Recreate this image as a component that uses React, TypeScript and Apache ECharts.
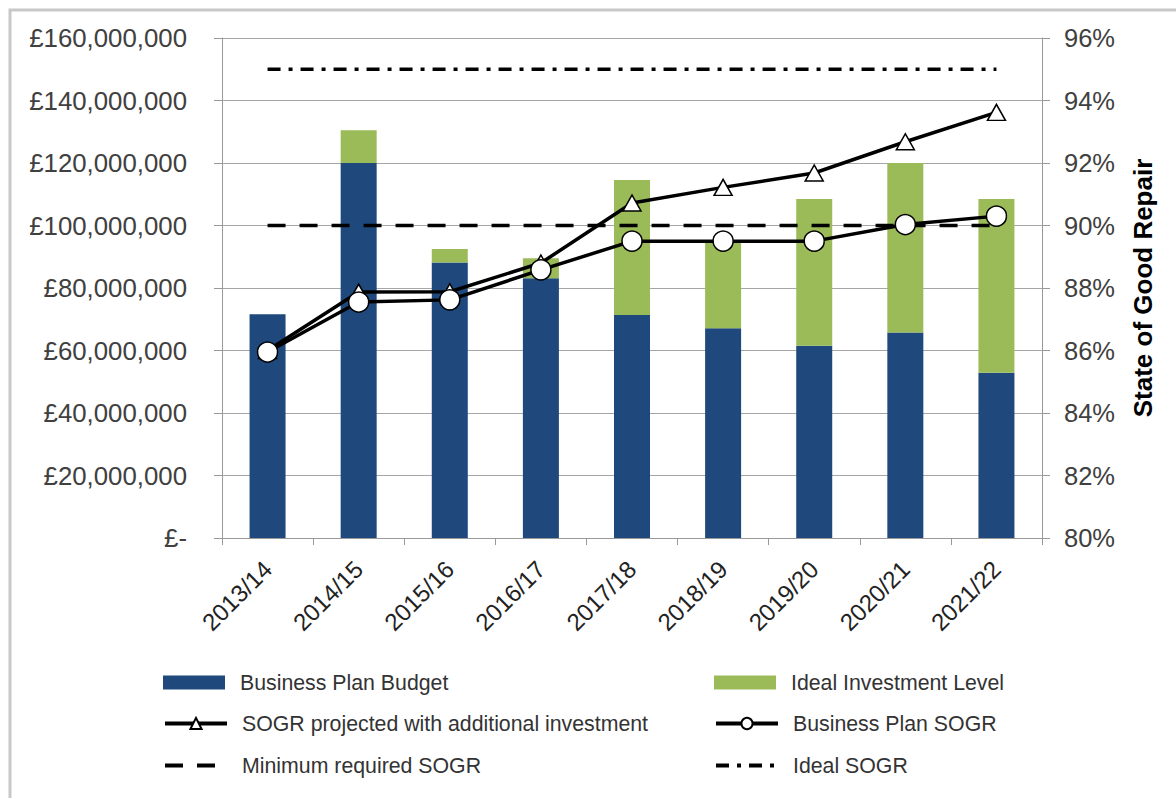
import React, { useEffect, useRef } from 'react';
import * as echarts from 'echarts';

const categories = ['2013/14', '2014/15', '2015/16', '2016/17', '2017/18', '2018/19', '2019/20', '2020/21', '2021/22'];
const businessPlanBudget = [71600000, 120000000, 88200000, 83100000, 71400000, 67100000, 61500000, 65800000, 52900000];
const idealInvestmentExtra = [0, 10500000, 4300000, 6400000, 43200000, 27400000, 47000000, 54200000, 55600000];
const sogrProjected = [86.0, 87.87, 87.88, 88.8, 90.72, 91.22, 91.68, 92.68, 93.62];
const businessPlanSogr = [85.95, 87.55, 87.62, 88.58, 89.5, 89.5, 89.5, 90.03, 90.3];
const minimumSogr = [90, 90, 90, 90, 90, 90, 90, 90, 90];
const idealSogr = [95, 95, 95, 95, 95, 95, 95, 95, 95];
const leftTicks = { min: 0, max: 160000000, interval: 20000000 };
const rightTicks = { min: 80, max: 96, interval: 2 };

const FONT = '"Liberation Sans", Arial, sans-serif';
const BLUE = '#1F497D';
const GREEN = '#9BBB59';

function fmtPounds(v: number): string {
  if (v === 0) return '£-';
  return '£' + Math.round(v).toString().replace(/\B(?=(\d{3})+(?!\d))/g, ',');
}

function legendAt(name: string, left: number, top: number, icon?: string, hideSymbol?: boolean) {
  const l: any = {
    data: [name],
    left,
    top,
    padding: 0,
    itemWidth: 62,
    itemHeight: 14,
    selectedMode: false,
    lineStyle: { width: 4 },
    textStyle: { fontSize: 21.3, color: '#333', fontFamily: FONT, padding: [0, 0, 0, 10] },
  };
  if (icon) l.icon = icon;
  if (hideSymbol) l.itemStyle = { opacity: 0 };
  return l;
}

export default function App() {
  const ref = useRef<HTMLDivElement>(null);
  useEffect(() => {
    const chart = echarts.init(ref.current as HTMLDivElement, null, { renderer: 'svg' });
    const option: any = {
      animation: false,
      backgroundColor: '#fff',
      textStyle: { fontFamily: FONT },
      graphic: [
        {
          type: 'rect',
          shape: { x: 10, y: 10, width: 1300, height: 1000 },
          style: { fill: 'none', stroke: '#c8c8c8', lineWidth: 3 },
          silent: true,
        },
      ],
      grid: { left: 222, right: 134, top: 38, bottom: 260 },
      legend: [
        legendAt('Business Plan Budget', 163, 672, 'rect'),
        legendAt('Ideal Investment Level', 714, 672, 'rect'),
        legendAt('SOGR projected with additional investment', 163, 713),
        legendAt('Business Plan SOGR', 714, 713),
        legendAt('Minimum required SOGR', 163, 755, undefined, true),
        legendAt('Ideal SOGR', 714, 755, undefined, true),
      ],
      xAxis: {
        type: 'category',
        data: categories,
        boundaryGap: true,
        axisLine: { show: true, lineStyle: { color: '#999', width: 1 } },
        axisTick: { show: true, length: 7, lineStyle: { color: '#999' } },
        axisLabel: { rotate: 45, fontSize: 24, color: '#222', margin: 27, fontFamily: FONT },
      },
      yAxis: [
        {
          type: 'value',
          min: leftTicks.min,
          max: leftTicks.max,
          interval: leftTicks.interval,
          axisLine: { show: true, lineStyle: { color: '#999' } },
          axisTick: { show: true, length: 8, lineStyle: { color: '#999' } },
          splitLine: { show: true, lineStyle: { color: '#a6a6a6', width: 1 } },
          axisLabel: { formatter: fmtPounds, fontSize: 25.8, color: '#404040', margin: 35, fontFamily: FONT },
        },
        {
          type: 'value',
          min: rightTicks.min,
          max: rightTicks.max,
          interval: rightTicks.interval,
          position: 'right',
          axisLine: { show: true, lineStyle: { color: '#999' } },
          axisTick: { show: true, length: 8, lineStyle: { color: '#999' } },
          splitLine: { show: false },
          axisLabel: { formatter: '{value}%', fontSize: 25.5, color: '#404040', margin: 22, fontFamily: FONT },
          name: 'State of Good Repair',
          nameLocation: 'middle',
          nameRotate: 90,
          nameGap: 88,
          nameTextStyle: { fontSize: 26, fontWeight: 'bold', color: '#000', fontFamily: FONT },
        },
      ],
      series: [
        {
          name: 'Business Plan Budget',
          type: 'bar',
          stack: 'inv',
          barWidth: 36,
          data: businessPlanBudget,
          itemStyle: { color: BLUE },
          z: 1,
        },
        {
          name: 'Ideal Investment Level',
          type: 'bar',
          stack: 'inv',
          barWidth: 36,
          data: idealInvestmentExtra,
          itemStyle: { color: GREEN },
          z: 1,
        },
        {
          name: 'Minimum required SOGR',
          type: 'line',
          yAxisIndex: 1,
          data: minimumSogr,
          symbol: 'none',
          lineStyle: { color: '#000', width: 3.5, type: [18, 14] },
          itemStyle: { color: '#000' },
          z: 3,
        },
        {
          name: 'Ideal SOGR',
          type: 'line',
          yAxisIndex: 1,
          data: idealSogr,
          symbol: 'none',
          lineStyle: { color: '#000', width: 3.5, type: [13, 8, 4, 8] },
          itemStyle: { color: '#000' },
          z: 3,
        },
        {
          name: 'SOGR projected with additional investment',
          type: 'line',
          yAxisIndex: 1,
          data: sogrProjected,
          symbol: 'triangle',
          symbolSize: [18, 16],
          showAllSymbol: true,
          lineStyle: { color: '#000', width: 3.5 },
          itemStyle: { color: '#fff', borderColor: '#000', borderWidth: 1.5 },
          z: 4,
        },
        {
          name: 'Business Plan SOGR',
          type: 'line',
          yAxisIndex: 1,
          data: businessPlanSogr,
          symbol: 'circle',
          symbolSize: 20,
          showAllSymbol: true,
          lineStyle: { color: '#000', width: 3.5 },
          itemStyle: { color: '#fff', borderColor: '#000', borderWidth: 1.5 },
          z: 5,
        },
      ],
    };
    chart.setOption(option);
    return () => chart.dispose();
  }, []);
  return (
    <div
      ref={ref}
      style={{ position: 'absolute', left: 0, top: 0, width: 1176, height: 798, background: '#fff' }}
    />
  );
}
